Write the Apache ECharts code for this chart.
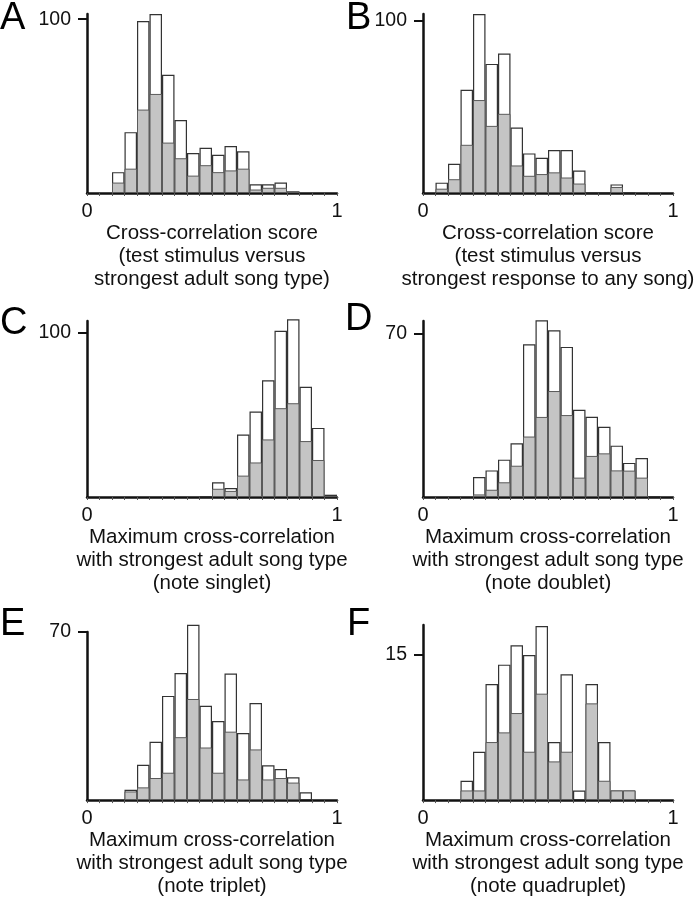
<!DOCTYPE html>
<html>
<head>
<meta charset="utf-8">
<script src="https://cdn.jsdelivr.net/npm/echarts@6/dist/echarts.min.js"></script>
<style>
html,body{margin:0;padding:0;background:#fff;}
#c{width:697px;height:899px;}
</style>
</head>
<body>
<div id="c"></div>
<script>
// 20 bins of width 0.05 from 0 to 1 (null = no bar)
const bins = ["0.00","0.05","0.10","0.15","0.20","0.25","0.30","0.35","0.40","0.45","0.50","0.55","0.60","0.65","0.70","0.75","0.80","0.85","0.90","0.95"];

const A_total = [null,null,12,35,99,103,68,42,23,26,22,27,24,5,5,6,1,null,null,null];
const A_gray  = [null,null,6,14,48,57,29,20,10,16,12,13,14,2,3,3,0.5,null,null,null];

const B_total = [null,6,17,60,104,75,81,38,23,20.5,25,25,13,0.3,0.3,5,0.3,null,null,null];
const B_gray  = [null,2.5,8,28,54,39,46,16,10,11,12,9,5.5,null,null,3.5,null,null,null,null];

const C_total = [null,null,null,null,null,null,null,null,null,0.5,9,5.5,38,52,71,101,108,67,42,1.4];
const C_gray  = [null,null,null,null,null,null,null,null,null,null,5,3.7,13,21,35,54,57,34,22.5,0.5];

const D_total = [null,null,null,null,8.6,11.4,16,23,65.4,75.7,71.4,64.3,37.4,34.4,30.1,22,14.6,16.7,0.4,null];
const D_gray  = [null,null,null,null,1.1,3.1,6.3,13.4,25.9,34.3,45.4,35.1,8.3,17.6,18.7,11.4,11.3,8.3,null,null];

const E_total = [null,null,null,4.3,14.7,24.3,43.4,52.9,73,39.3,32.9,52.7,27.9,40.4,14.5,12.9,9.5,3.3,null,null];
const E_gray  = [null,null,null,3.6,5.3,9.2,11.4,26.2,42.1,21.9,11.4,28.5,8.6,21.1,8.6,9.2,7.3,null,null,null];

const F_total = [null,null,null,2,5,12,14,16,15,18,6,13,1,12,6,1,1,null,null,null];
const F_gray  = [null,null,null,1,1,6,7,9,5,11,4,5,null,10,2,1,1,null,null,null];

const yMax = [103, 104, 107, 75.4, 70, 18.1];
const yTick = [100, 100, 100, 70, 70, 15];
const letters = ["A","B","C","D","E","F"];
const xNames = [
  "Cross-correlation score\n(test stimulus versus\nstrongest adult song type)",
  "Cross-correlation score\n(test stimulus versus\nstrongest response to any song)",
  "Maximum cross-correlation\nwith strongest adult song type\n(note singlet)",
  "Maximum cross-correlation\nwith strongest adult song type\n(note doublet)",
  "Maximum cross-correlation\nwith strongest adult song type\n(note triplet)",
  "Maximum cross-correlation\nwith strongest adult song type\n(note quadruplet)"
];
const totals = [A_total,B_total,C_total,D_total,E_total,F_total];
const grays = [A_gray,B_gray,C_gray,D_gray,E_gray,F_gray];

// layout
const gridBoxes = [
  {left:87, top:14, width:250, height:179},
  {left:423, top:14, width:250, height:179},
  {left:87, top:321, width:250, height:176},
  {left:423, top:321, width:250, height:176},
  {left:87, top:632, width:250, height:171},
  {left:423, top:625, width:250, height:178}
];
const nameGaps = [29, 29, 26, 26, 23, 23];
const letterPos = [[0,0],[346,0],[0,305],[345,301],[0,606],[347,606]];

const FONT = "Liberation Sans";
const grid = [], xAxis = [], yAxis = [], series = [], graphic = [];
for (let i = 0; i < 6; i++) {
  grid.push(Object.assign({containLabel:false}, gridBoxes[i]));
  xAxis.push({
    type:'category', gridIndex:i, data:bins, boundaryGap:true,
    axisLine:{show:true, lineStyle:{color:'#111', width:2.5}},
    axisTick:{show:true, interval:0, length:3, lineStyle:{color:'#555', width:1}},
    axisLabel:{show:false}
  });
  xAxis.push({
    type:'value', gridIndex:i, min:0, max:1, interval:1, position:'bottom',
    axisLine:{show:false}, axisTick:{show:false}, splitLine:{show:false},
    axisLabel:{show:true, margin:8, color:'#111', fontFamily:FONT, fontSize:20,
      formatter: v => (v===0||v===1) ? String(v) : ''},
    name:xNames[i], nameLocation:'middle', nameGap:nameGaps[i],
    nameTextStyle:{color:'#111', fontFamily:FONT, fontSize:20.5, lineHeight:23, verticalAlign:'top'}
  });
  yAxis.push({
    type:'value', gridIndex:i, min:0, max:yMax[i],
    axisLine:{show:true, lineStyle:{color:'#111', width:2.5}},
    axisTick:{show:true, length:9, customValues:[yTick[i]], lineStyle:{color:'#111', width:2}},
    axisLabel:{show:true, customValues:[yTick[i]], margin:16, color:'#111', fontFamily:FONT, fontSize:19.5},
    splitLine:{show:false}
  });
  series.push({
    type:'bar', xAxisIndex:2*i, yAxisIndex:i, data:totals[i].map(v=>v===null?'-':v),
    barCategoryGap:0, barGap:'-100%', clip:false, silent:true,
    itemStyle:{color:'#ffffff', borderColor:'#333', borderWidth:1.2}
  });
  series.push({
    type:'bar', xAxisIndex:2*i, yAxisIndex:i, data:grays[i].map(v=>v===null?'-':v),
    barCategoryGap:0, barGap:'-100%', clip:false, silent:true,
    itemStyle:{color:'#c4c4c4', borderColor:'#5a5a5a', borderWidth:1}
  });
  graphic.push({
    type:'text', left:letterPos[i][0], top:letterPos[i][1],
    style:{text:letters[i], font:'38px "Liberation Sans"', fill:'#000'}
  });
}

const chart = echarts.init(document.getElementById('c'), null, {renderer:'canvas'});
chart.setOption({
  animation:false, backgroundColor:'#fff',
  grid, xAxis, yAxis, series, graphic
});
</script>
</body>
</html>
